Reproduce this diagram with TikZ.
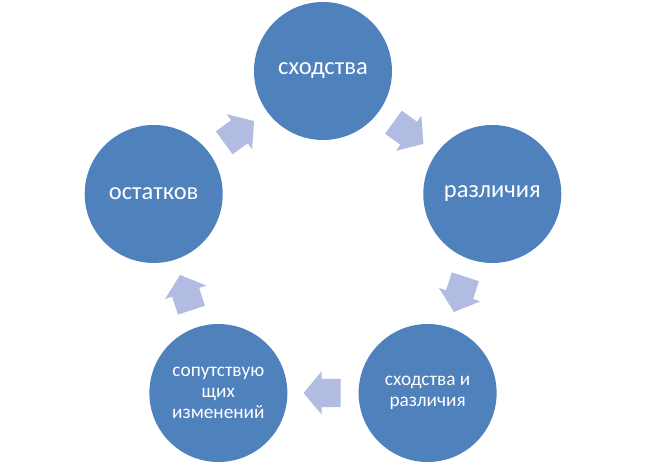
\documentclass[tikz,border=0pt]{standalone}
\usepackage{fontspec}
\setmainfont{Carlito}
\usepackage{xcolor}
\usetikzlibrary{shapes,arrows,positioning}

\definecolor{circblue}{RGB}{79,129,189}
\definecolor{arrlav}{RGB}{178,187,226}
\tikzset{
    method/.style={circle,fill=circblue,minimum size=138pt,inner sep=0pt,
        text=white,align=center,font=\fontsize{24.5}{28}\selectfont},
    methodsmall/.style={method,font=\fontsize{19.3}{21}\selectfont},
    cyclearrow/.style={single arrow,fill=arrlav,inner xsep=0pt,inner ysep=14pt,
        minimum height=37pt,minimum width=43pt,
        single arrow head extend=7.5pt,single arrow tip angle=100}
}

\begin{document}
\begin{tikzpicture}[x=1pt,y=1pt]
    % Frame
    \useasboundingbox (-323,-216) rectangle (323,249);
    % Circles
    \node[method] (sim) at (90:178) {сходства};
    \node[method] (diff) at (18:178) {различия};
    \node[methodsmall] (simdiff) at (-54:178) {сходства и\\различия};
    \node[methodsmall] (conc) at (-126:178) {сопутствую\\щих\\изменений};
    \node[method] (resid) at (162:178) {остатков};
    % Arrows between circles
    \foreach \a/\n in {54/a1,-18/a2,-90/a3,-162/a4,126/a5}
        \node[cyclearrow,shift={(\a+90:5)},rotate=\a-90] (\n) at (\a:144) {};
\end{tikzpicture}
\end{document}
